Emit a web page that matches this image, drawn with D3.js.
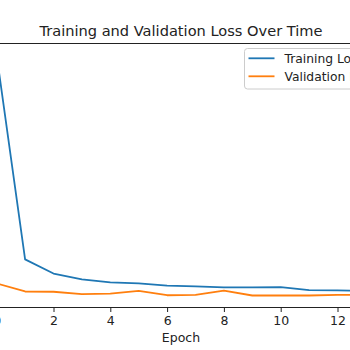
<!DOCTYPE html>
<html>
<head>
<meta charset="utf-8">
<script src="https://cdn.jsdelivr.net/npm/d3@7"></script>
<style>
  html, body { margin: 0; padding: 0; background: #fff; }
  svg { display: block; }
  text { font-family: "DejaVu Sans", sans-serif; }
</style>
</head>
<body>
<script>
const epochs = [0, 1, 2, 3, 4, 5, 6, 7, 8, 9, 10, 11, 12, 13];
const trainingLoss = [1.0, 0.239, 0.186, 0.164, 0.153, 0.149, 0.141, 0.138, 0.134, 0.134, 0.135, 0.124, 0.123, 0.122];
const validationLoss = [0.149, 0.119, 0.118, 0.109, 0.111, 0.121, 0.105, 0.106, 0.1225, 0.104, 0.104, 0.104, 0.106, 0.107];
const xTicks = [0, 2, 4, 6, 8, 10, 12];
const seriesNames = ["Training Loss", "Validation Loss"];
const seriesColors = ["#1f77b4", "#ff7f0e"];
const titleText = "Training and Validation Loss Over Time";
const xLabel = "Epoch";

const W = 350, H = 350;
const plotTop = 43.5, plotBottom = 307.5;

const svg = d3.select("body").append("svg").attr("width", W).attr("height", H);

const x = d3.scaleLinear().domain([2, 12]).range([53.5, 337.5]);
const all = trainingLoss.concat(validationLoss);
const yMin = d3.min(all), yMax = d3.max(all);
const pad = (yMax - yMin) * 0.05;
const y = d3.scaleLinear().domain([yMin - pad, yMax + pad]).range([plotBottom, plotTop]);

svg.append("clipPath").attr("id", "plotclip")
  .append("rect").attr("x", -50).attr("y", plotTop).attr("width", W + 100).attr("height", plotBottom - plotTop);

const line = d3.line().x((d, i) => x(epochs[i])).y(d => y(d));
const g = svg.append("g").attr("clip-path", "url(#plotclip)");
[trainingLoss, validationLoss].forEach((s, k) => {
  g.append("path").datum(s).attr("d", line)
    .attr("fill", "none").attr("stroke", seriesColors[k]).attr("stroke-width", 1.8)
    .attr("stroke-linejoin", "round").attr("stroke-linecap", "square");
});

// top spine
svg.append("line").attr("x1", 0).attr("x2", W).attr("y1", plotTop).attr("y2", plotTop)
  .attr("stroke", "#222").attr("stroke-width", 1);

// x axis
const xAxis = d3.axisBottom(x).tickValues(xTicks).tickSize(4.5).tickPadding(4).tickFormat(d3.format("d"));
const ax = svg.append("g").attr("transform", `translate(0,${plotBottom})`).call(xAxis);
ax.select(".domain").attr("d", `M-10,0H${W + 10}`).attr("stroke", "#222");
ax.selectAll(".tick line").attr("stroke", "#222");
ax.selectAll(".tick text").attr("font-size", 12.5).attr("fill", "#222")
  .style("font-family", "'DejaVu Sans', sans-serif");

svg.append("text").attr("x", 181).attr("y", 342).attr("text-anchor", "middle")
  .attr("font-size", 12.5).attr("fill", "#222").text(xLabel);

svg.append("text").attr("x", 181).attr("y", 36).attr("text-anchor", "middle")
  .attr("font-size", 14.6).attr("fill", "#222").text(titleText);

// legend
const lg = svg.append("g");
lg.append("rect").attr("x", 244.5).attr("y", 48.5).attr("width", 150).attr("height", 40.5)
  .attr("rx", 3).attr("fill", "#fff").attr("fill-opacity", 0.8).attr("stroke", "#ccc");
seriesNames.forEach((name, k) => {
  const yy = 58.3 + k * 18;
  lg.append("line").attr("x1", 248.5).attr("x2", 274.5).attr("y1", yy).attr("y2", yy)
    .attr("stroke", seriesColors[k]).attr("stroke-width", 1.8);
  lg.append("text").attr("x", 284.5).attr("y", yy + 4.8).attr("font-size", 12.3)
    .attr("fill", "#222").text(name);
});
</script>
</body>
</html>
